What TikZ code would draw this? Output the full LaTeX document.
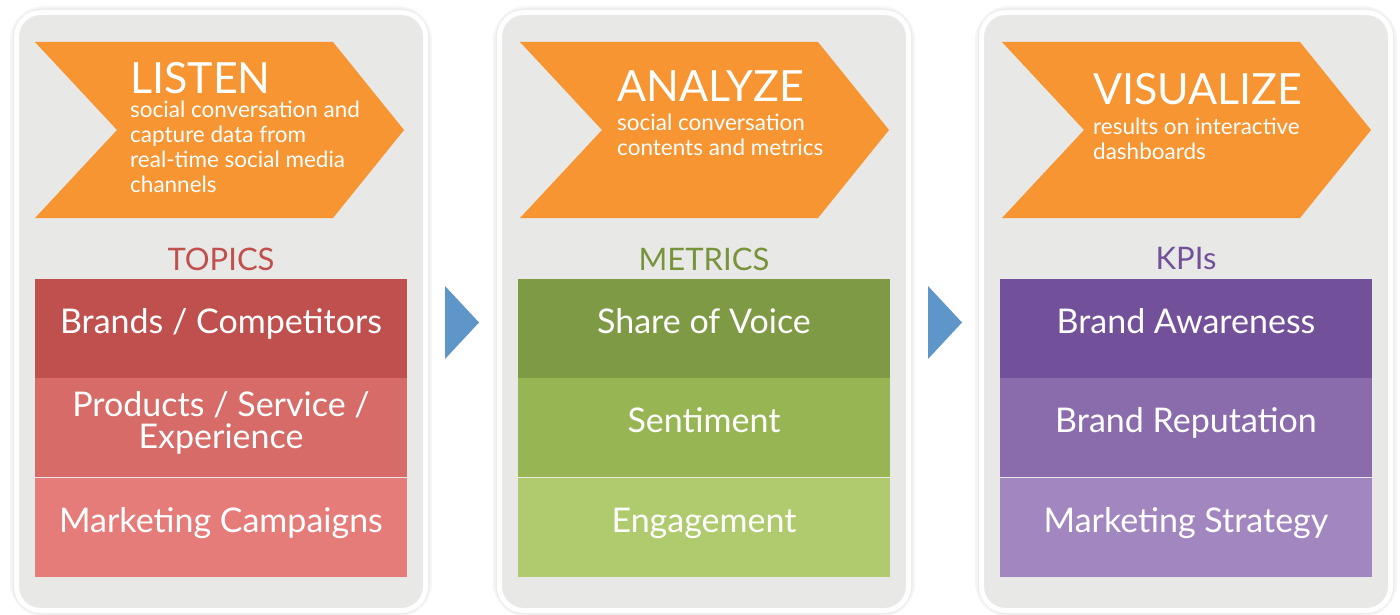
\documentclass[tikz,border=0pt]{standalone}
\usepackage{fontspec}
\setmainfont{Lato}

\definecolor{panelgray}{HTML}{E8E8E6}
\definecolor{chevorange}{HTML}{F69532}
\definecolor{arrowblue}{HTML}{5E96CA}
\definecolor{topicred}{HTML}{C0504D}
\definecolor{redA}{HTML}{C0504D}
\definecolor{redB}{HTML}{D66B68}
\definecolor{redC}{HTML}{E67C79}
\definecolor{metricgreen}{HTML}{77933C}
\definecolor{greenA}{HTML}{7F9A45}
\definecolor{greenB}{HTML}{97B653}
\definecolor{greenC}{HTML}{AFCB6D}
\definecolor{kpipurple}{HTML}{72519A}
\definecolor{purpleA}{HTML}{72519A}
\definecolor{purpleB}{HTML}{8A6CAD}
\definecolor{purpleC}{HTML}{A286BF}

\begin{document}
\begin{tikzpicture}[x=1pt, y=-1pt,
  panel/.style={fill=panelgray, draw=white, line width=5pt, rounded corners=24pt},
  shade/.style={draw=black!4, line width=13pt, rounded corners=28pt},
  innershade/.style={draw=black!8, line width=8pt, rounded corners=26pt},
  chevron/.style={fill=chevorange},
  title/.style={anchor=north west, inner sep=0pt, text=white,
    font=\fontsize{43}{43}\selectfont},
  subtitle/.style={anchor=north west, inner sep=0pt, text=white, align=left,
    font=\fontsize{22.5}{25}\selectfont},
  header/.style={inner sep=0pt, font=\fontsize{31}{31}\selectfont},
  rowbox/.style={minimum width=372pt, minimum height=99.5pt, inner sep=0pt,
    text=white, align=center, text height=24.5pt, text depth=15.3pt,
    font=\fontsize{34}{32}\selectfont},
  pointer/.style={fill=arrowblue}]
  \useasboundingbox[fill=white] (0,0) rectangle (1400,615);

  % Panels
  \draw[shade] (16.5,12.5) rectangle (425.5,610.5);
  \draw[shade] (499.5,12.5) rectangle (908.5,610.5);
  \draw[shade] (981.5,12.5) rectangle (1390.5,610.5);
  \draw[innershade] (16.5,12.5) rectangle (425.5,610.5);
  \draw[innershade] (499.5,12.5) rectangle (908.5,610.5);
  \draw[innershade] (981.5,12.5) rectangle (1390.5,610.5);
  \draw[panel] (16.5,12.5) rectangle (425.5,610.5);
  \draw[panel] (499.5,12.5) rectangle (908.5,610.5);
  \draw[panel] (981.5,12.5) rectangle (1390.5,610.5);

  % Chevrons
  \fill[chevron] (35,42) -- (333,42) -- (404,130) -- (333,218) -- (35,218) -- (117,130) -- cycle;
  \fill[chevron] (520,42) -- (818,42) -- (889,130) -- (818,218) -- (520,218) -- (602,130) -- cycle;
  \fill[chevron] (1002,42) -- (1300,42) -- (1371,130) -- (1300,218) -- (1002,218) -- (1084,130) -- cycle;

  % Step titles
  \node[title] (listen) at (130,62) {LISTEN};
  \node[subtitle] (listentxt) at (130,101) {social conversation and\\capture data from\\real-time social media\\channels};
  \node[title] (analyze) at (617,70) {ANALYZE};
  \node[subtitle] (analyzetxt) at (617,114) {social conversation\\contents and metrics};
  \node[title] (visualize) at (1093,73) {VISUALIZE};
  \node[subtitle] (visualizetxt) at (1093,118) {results on interactive\\dashboards};

  % Column headers
  \node[header, text=topicred] (topics) at (221,259) {TOPICS};
  \node[header, text=metricgreen] (metrics) at (704,259) {METRICS};
  \node[header, text=kpipurple] (kpis) at (1186,259) {KPIs};

  % Topic rows
  \node[rowbox, fill=redA] (brands) at (221,328.5) {Brands / Competitors};
  \node[rowbox, fill=redB, text height=56.5pt] (products) at (221,427.5) {Products / Service /\\Experience};
  \node[rowbox, fill=redC] (campaigns) at (221,527.5) {Marketing Campaigns};

  % Metric rows
  \node[rowbox, fill=greenA] (voice) at (704,328.5) {Share of Voice};
  \node[rowbox, fill=greenB] (sentiment) at (704,427.5) {Sentiment};
  \node[rowbox, fill=greenC] (engagement) at (704,527.5) {Engagement};

  % KPI rows
  \node[rowbox, fill=purpleA] (awareness) at (1186,328.5) {Brand Awareness};
  \node[rowbox, fill=purpleB] (reputation) at (1186,427.5) {Brand Reputation};
  \node[rowbox, fill=purpleC] (strategy) at (1186,527.5) {Marketing Strategy};

  % Pointers between panels
  \fill[pointer] (445,286) -- (479,322.5) -- (445,359) -- cycle;
  \fill[pointer] (928,286) -- (962,322.5) -- (928,359) -- cycle;
\end{tikzpicture}
\end{document}
